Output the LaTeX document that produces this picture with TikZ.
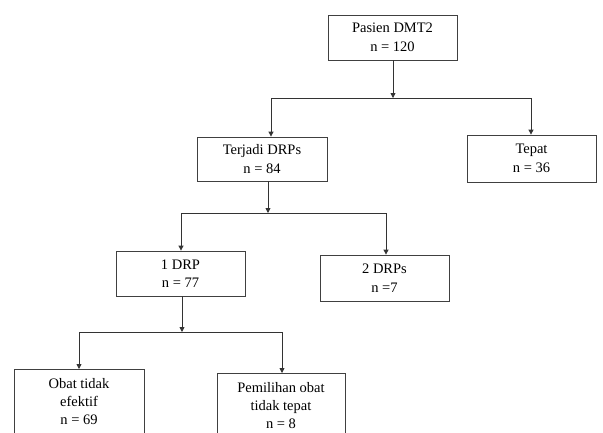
\documentclass[tikz,border=0pt]{standalone}
\usepackage{fontspec}
\setmainfont{Liberation Serif}
\usetikzlibrary{arrows.meta}
\begin{document}
\begin{tikzpicture}[x=1pt, y=-1pt,
        kotak/.style={draw=black!75, line width=0.8pt, align=center,
            minimum width=129pt, minimum height=45pt, inner sep=2pt,
            font=\fontsize{14.5}{18.5}\selectfont},
        kotakbawah/.style={kotak, minimum height=64pt, anchor=north,
            font=\fontsize{14.5}{18}\selectfont},
        garis/.style={black!80, line width=0.8pt},
        panah/.style={garis, -{Triangle[width=5pt, length=5pt]}}]
                        \useasboundingbox (0,0) rectangle (603,432);
                        \clip (0,0) rectangle (603,432);
                        % Boxes
                        \node[kotak] (pasien) at (392.5, 37.5) {Pasien DMT2\\n = 120};
                        \node[kotak, minimum height=47pt] (tepat) at (531.5, 158.5) {Tepat\\n = 36};
                        \node[kotak, minimum width=130pt, minimum height=44pt] (terjadi) at (262, 159) {Terjadi DRPs\\n = 84};
                        \node[kotak] (drpsatu) at (180.5, 273.5) {1 DRP\\n = 77};
                        \node[kotak, minimum height=46pt] (drpdua) at (384.5, 278) {2 DRPs\\n =7};
                        \node[kotakbawah, minimum width=130pt] (obat) at (79, 369) {Obat tidak\\efektif\\n = 69};
                        \node[kotakbawah, minimum width=128pt] (pemilihan) at (281, 373) {Pemilihan obat\\tidak tepat\\n = 8};
                        % Junctions
                        \coordinate (cabangA) at (393, 98);
                        \coordinate (cabangAkiri) at (271, 98);
                        \coordinate (cabangAkanan) at (531, 98);
                        \coordinate (cabangB) at (268, 213);
                        \coordinate (cabangBkiri) at (181, 213);
                        \coordinate (cabangBkanan) at (386, 213);
                        \coordinate (cabangC) at (182, 332);
                        \coordinate (cabangCkiri) at (79, 332);
                        \coordinate (cabangCkanan) at (282, 332);
                        % Level 1
                        \draw[panah] (pasien.south -| cabangA) -- (cabangA);
                        \draw[garis] (cabangAkiri) -- (cabangAkanan);
                        \draw[panah] (cabangAkiri) -- (terjadi.north -| cabangAkiri);
                        \draw[panah] (cabangAkanan) -- (tepat.north -| cabangAkanan);
                        % Level 2
                        \draw[panah] (terjadi.south -| cabangB) -- (cabangB);
                        \draw[garis] (cabangBkiri) -- (cabangBkanan);
                        \draw[panah] (cabangBkiri) -- (drpsatu.north -| cabangBkiri);
                        \draw[panah] (cabangBkanan) -- (drpdua.north -| cabangBkanan);
                        % Level 3
                        \draw[panah] (drpsatu.south -| cabangC) -- (cabangC);
                        \draw[garis] (cabangCkiri) -- (cabangCkanan);
                        \draw[panah] (cabangCkiri) -- (obat.north -| cabangCkiri);
                        \draw[panah] (cabangCkanan) -- (pemilihan.north -| cabangCkanan);
                    \end{tikzpicture}
\end{document}
